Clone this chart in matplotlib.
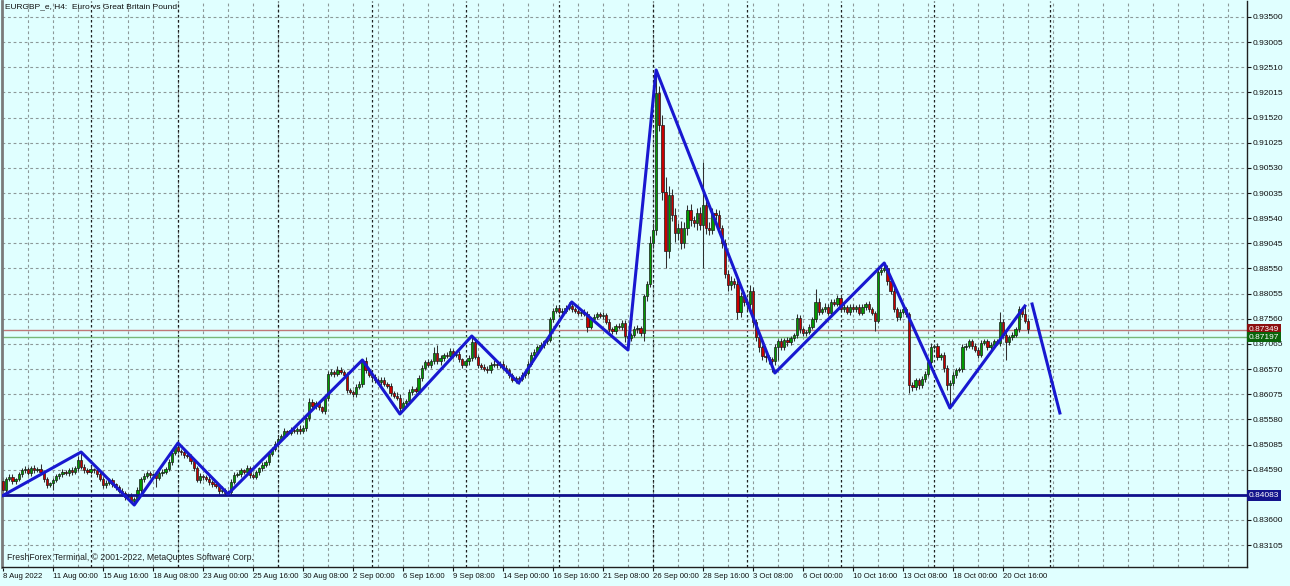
import numpy as np
import matplotlib
matplotlib.use("Agg")
import matplotlib.pyplot as plt

plt.rcParams['font.family'] = ['Liberation Sans', 'DejaVu Sans']

# H4 closes, 8 Aug 2022 08:00 .. 21 Oct 2022 (open = previous close)
close = [
    0.8420, 0.8440, 0.8445, 0.8436, 0.8440, 0.8450, 0.8458, 0.8460,
    0.8452, 0.8462, 0.8458, 0.8460, 0.8455, 0.8440, 0.8428, 0.8432,
    0.8438, 0.8446, 0.8450, 0.8455, 0.8452, 0.8458, 0.8455, 0.8462,
    0.8478, 0.8465, 0.8458, 0.8455, 0.8460, 0.8458, 0.8450, 0.8440,
    0.8428, 0.8432, 0.8438, 0.8430, 0.8425, 0.8418, 0.8414, 0.8405,
    0.8408, 0.8398, 0.8402, 0.8420, 0.8440, 0.8446, 0.8452, 0.8448,
    0.8450, 0.8442, 0.8452, 0.8455, 0.8460, 0.8475, 0.8492, 0.8503,
    0.8495, 0.8493, 0.8488, 0.8486, 0.8476, 0.8462, 0.8438, 0.8446,
    0.8444, 0.8440, 0.8435, 0.8430, 0.8426, 0.8418, 0.8420, 0.8414,
    0.8416, 0.8435, 0.8448, 0.8450, 0.8458, 0.8455, 0.8462, 0.8448,
    0.8445, 0.8455, 0.8462, 0.8468, 0.8475, 0.8490, 0.8500, 0.8510,
    0.8520, 0.8525, 0.8535, 0.8532, 0.8538, 0.8536, 0.8540, 0.8535,
    0.8542, 0.8560, 0.8592, 0.8585, 0.8590, 0.8582, 0.8574, 0.8600,
    0.8648, 0.8652, 0.8648, 0.8656, 0.8652, 0.8645, 0.8615, 0.8612,
    0.8608, 0.8622, 0.8628, 0.8672, 0.8655, 0.8645, 0.8642, 0.8635,
    0.8632, 0.8636, 0.8628, 0.8624, 0.8610, 0.8605, 0.8600, 0.8580,
    0.8590, 0.8595, 0.8612, 0.8618, 0.8614, 0.8640, 0.8660, 0.8670,
    0.8666, 0.8672, 0.8688, 0.8672, 0.8678, 0.8685, 0.8682, 0.8692,
    0.8684, 0.8686, 0.8676, 0.8665, 0.8672, 0.8678, 0.8710, 0.8680,
    0.8665, 0.8662, 0.8658, 0.8655, 0.8666, 0.8668, 0.8665, 0.8668,
    0.8660, 0.8655, 0.8645, 0.8635, 0.8640, 0.8638, 0.8645, 0.8650,
    0.8668, 0.8685, 0.8690, 0.8700, 0.8705, 0.8712, 0.8715, 0.8755,
    0.8772, 0.8778, 0.8770, 0.8772, 0.8778, 0.8782, 0.8775, 0.8772,
    0.8768, 0.8770, 0.8766, 0.8740, 0.8755, 0.8760, 0.8765, 0.8762,
    0.8764, 0.8750, 0.8735, 0.8732, 0.8742, 0.8740, 0.8748, 0.8722,
    0.8718, 0.8725, 0.8735, 0.8738, 0.8728, 0.8800, 0.8825, 0.8905,
    0.8930, 0.9200, 0.9138, 0.9006, 0.8890, 0.9000, 0.8960, 0.8925,
    0.8935, 0.8905, 0.8935, 0.8970, 0.8950, 0.8945, 0.8965, 0.8940,
    0.8980, 0.8935, 0.8930, 0.8965, 0.8960, 0.8935, 0.8905, 0.8845,
    0.8822, 0.8830, 0.8825, 0.8770, 0.8800, 0.8790, 0.8785, 0.8810,
    0.8750, 0.8720, 0.8700, 0.8682, 0.8680, 0.8676, 0.8672, 0.8700,
    0.8712, 0.8700, 0.8715, 0.8710, 0.8718, 0.8725, 0.8758, 0.8735,
    0.8728, 0.8730, 0.8740, 0.8755, 0.8790, 0.8770, 0.8775, 0.8780,
    0.8768, 0.8790, 0.8786, 0.8796, 0.8775, 0.8780, 0.8770, 0.8780,
    0.8775, 0.8780, 0.8768, 0.8780, 0.8785, 0.8775, 0.8768, 0.8752,
    0.8848, 0.8852, 0.8855, 0.8830, 0.8810, 0.8775, 0.8760, 0.8770,
    0.8775, 0.8765, 0.8625, 0.8622, 0.8635, 0.8625, 0.8638, 0.8648,
    0.8670, 0.8700, 0.8702, 0.8680, 0.8685, 0.8660, 0.8625, 0.8630,
    0.8645, 0.8655, 0.8658, 0.8700, 0.8702, 0.8712, 0.8702, 0.8695,
    0.8685, 0.8708, 0.8712, 0.8700, 0.8705, 0.8712, 0.8708, 0.8750,
    0.8725, 0.8710, 0.8720, 0.8725, 0.8735, 0.8775, 0.8765, 0.8752,
    0.8735,
]
first_open = 0.8437

# wick lengths above / below the body, in pips
wick_up = [
    8, 4, 6, 5, 3, 5, 4, 6,  5, 4, 6, 5, 11, 4, 5, 3,
    4, 5, 3, 6, 4, 5, 6, 4,  8, 16, 5, 4, 6, 3, 5, 4,
    5, 6, 4, 5, 3, 4, 5, 3,  4, 6, 3, 4, 5, 6, 4, 5,
    3, 5, 4, 6, 4, 5, 6, 4,  9, 5, 4, 6, 3, 5, 4, 6,
    5, 4, 6, 3, 5, 4, 6, 3,  4, 5, 6, 4, 5, 3, 6, 4,
    5, 4, 3, 6, 4, 5, 3, 6,  4, 5, 6, 3, 5, 4, 3, 6,
    4, 5, 8, 6, 4, 5, 3, 6,  5, 6, 4, 7, 5, 4, 6, 5,
    4, 6, 5, 3, 8, 4, 6, 5,  4, 5, 6, 4, 5, 3, 6, 8,
    5, 4, 6, 5, 4, 6, 5, 4,  6, 5, 12, 17, 6, 4, 5, 6,
    5, 4, 6, 3, 5, 6, 12, 8,  5, 4, 6, 5, 4, 6, 5, 4,
    5, 6, 4, 5, 3, 4, 6, 5,  4, 5, 6, 4, 5, 3, 6, 5,
    6, 5, 4, 6, 5, 8, 6, 4,  5, 4, 6, 5, 4, 6, 5, 4,
    5, 4, 6, 5, 4, 6, 5, 6,  5, 4, 6, 5, 4, 5, 6, 13,
    15, 46, 15, 20, 30, 18, 12, 15,  10, 14, 12, 9, 11, 8, 10, 12,
    85, 10, 12, 9, 8, 10, 6, 9,  8, 10, 7, 12, 9, 8, 6, 12,
    8, 6, 7, 5, 6, 4, 5, 6,  5, 7, 4, 6, 5, 4, 8, 6,
    5, 4, 6, 5, 25, 6, 5, 7,  6, 5, 4, 6, 5, 7, 4, 6,
    5, 4, 6, 5, 4, 6, 5, 4,  6, 5, 11, 6, 5, 6, 4, 5,
    6, 5, 4, 6, 5, 4, 6, 5,  6, 8, 5, 6, 4, 5, 6, 5,
    6, 5, 4, 6, 7, 5, 4, 6,  5, 6, 4, 5, 6, 5, 4, 20,
    6, 5, 4, 6, 5, 6, 4, 16,  5,
]
wick_dn = [
    6, 5, 4, 6, 5, 4, 6, 5,  4, 5, 6, 4, 5, 6, 5, 4,
    12, 4, 5, 6, 4, 5, 6, 4,  5, 4, 6, 5, 4, 6, 5, 4,
    6, 5, 4, 6, 5, 4, 6, 5,  4, 5, 8, 4, 6, 5, 4, 6,
    5, 17, 4, 6, 5, 4, 6, 5,  4, 6, 5, 4, 6, 5, 4, 6,
    5, 4, 6, 5, 4, 6, 5, 4,  3, 6, 5, 4, 6, 5, 4, 6,
    5, 4, 6, 5, 4, 6, 5, 4,  6, 5, 4, 6, 5, 4, 6, 5,
    4, 6, 5, 4, 6, 5, 4, 6,  5, 4, 6, 5, 4, 6, 5, 4,
    6, 5, 4, 6, 5, 4, 6, 5,  4, 6, 5, 4, 6, 5, 4, 11,
    6, 5, 4, 6, 5, 4, 6, 5,  4, 6, 5, 4, 6, 5, 4, 6,
    5, 4, 6, 5, 4, 6, 5, 4,  6, 5, 4, 6, 5, 4, 6, 5,
    4, 6, 5, 4, 6, 10, 4, 6,  5, 4, 6, 5, 4, 6, 5, 4,
    6, 5, 4, 6, 5, 4, 6, 5,  4, 6, 5, 10, 4, 6, 5, 4,
    6, 5, 4, 6, 5, 4, 6, 12,  23, 5, 4, 6, 5, 16, 8, 6,
    10, 10, 12, 16, 34, 15, 12, 18,  14, 12, 10, 15, 12, 9, 14, 10,
    85, 12, 10, 8, 9, 11, 10, 8,  12, 10, 8, 14, 10, 9, 12, 8,
    10, 8, 9, 7, 10, 8, 20, 6,  25, 6, 5, 8, 6, 5, 7, 6,
    5, 6, 4, 5, 6, 7, 5, 6,  5, 6, 4, 5, 6, 5, 4, 6,
    5, 6, 4, 5, 6, 5, 4, 20,  5, 6, 4, 7, 6, 5, 8, 6,
    5, 6, 15, 8, 6, 7, 5, 6,  5, 6, 4, 6, 5, 8, 10, 42,
    6, 5, 4, 6, 5, 4, 6, 5,  6, 5, 4, 6, 5, 6, 4, 5,
    6, 35, 5, 6, 4, 5, 6, 5,  6,
]

# ZigZag turning points (bar index, price)
zz_idx = [0, 25, 42, 56, 72, 115, 127, 150, 165, 182, 200, 209, 247, 282, 303, 327]
zz_price = [0.84083, 0.84938, 0.83895, 0.85115, 0.84112, 0.86749, 0.85686, 0.87221,
            0.86296, 0.87891, 0.86946, 0.92457, 0.86493, 0.88658, 0.85804, 0.87812]
proj_idx = [329.3, 338.2]
proj_price = [0.87851, 0.85706]

level_blue = 0.84083
level_red = 0.87349
level_green = 0.87197

y_ticks = [0.93500, 0.93005, 0.92510, 0.92015, 0.91520, 0.91025, 0.90530, 0.90035,
           0.89540, 0.89045, 0.88550, 0.88055, 0.87560, 0.87065, 0.86570, 0.86075,
           0.85580, 0.85085, 0.84590, 0.84095, 0.83600, 0.83105]
x_labels = ['8 Aug 2022', '11 Aug 00:00', '15 Aug 16:00', '18 Aug 08:00', '23 Aug 00:00',
            '25 Aug 16:00', '30 Aug 08:00', '2 Sep 00:00', '6 Sep 16:00', '9 Sep 08:00',
            '14 Sep 00:00', '16 Sep 16:00', '21 Sep 08:00', '26 Sep 00:00', '28 Sep 16:00',
            '3 Oct 08:00', '6 Oct 00:00', '10 Oct 16:00', '13 Oct 08:00', '18 Oct 00:00',
            '20 Oct 16:00']
week_sep = [28, 56, 88, 118, 148, 178, 208, 238, 268, 298, 335]

bg = '#e0ffff'
W, H = 1290, 586
fig = plt.figure(figsize=(W / 100, H / 100), dpi=100, facecolor=bg)
ax = fig.add_axes([2 / W, (H - 567) / H, 1245 / W, 566 / H], facecolor=bg)

c = np.array(close)
o = np.r_[first_open, c[:-1]]
hi = np.maximum(o, c) + np.array(wick_up) * 0.0001
lo = np.minimum(o, c) - np.array(wick_dn) * 0.0001
x = np.arange(len(c))

ax.set_xlim(-0.32, 398.08)
ax.set_ylim(0.826749, 0.938149)

# grid + week separators
grid_kw = dict(color='#8c9898', lw=0.8, ls=(0, (2.5, 2.5)), zorder=0)
for yt in y_ticks:
    ax.axhline(yt, **grid_kw)
for gx in range(8, 399, 8):
    ax.axvline(gx, **grid_kw)
for sx in week_sep:
    ax.axvline(sx, color='#202020', lw=0.9, ls=(0, (2, 2)), zorder=0.5)

# candles
ax.vlines(x, lo, hi, color='#303030', lw=0.75, zorder=2)
up = c >= o
body_h = np.maximum(np.abs(c - o), 0.00008)
ax.bar(x[up], body_h[up], bottom=np.minimum(o, c)[up], width=0.72,
       color='#009a00', edgecolor='#1a1a1a', lw=0.5, zorder=3)
ax.bar(x[~up], body_h[~up], bottom=np.minimum(o, c)[~up], width=0.72,
       color='#c80000', edgecolor='#1a1a1a', lw=0.5, zorder=3)

# price lines
ax.axhline(level_red, color='#c07878', lw=1.0, zorder=1)
ax.axhline(level_green, color='#78b878', lw=1.0, zorder=1)
ax.axhline(level_blue, color='#10108c', lw=2.0, zorder=4)

# zigzag
ax.plot(zz_idx, zz_price, color='#1818d0', lw=2.2, zorder=5)
ax.plot(proj_idx, proj_price, color='#1818d0', lw=2.2, zorder=5)

ax.spines['top'].set_visible(False)
ax.spines['left'].set_color('#7a7a7a')
ax.spines['left'].set_linewidth(2)
ax.spines['right'].set_color('#202020')
ax.spines['bottom'].set_color('#202020')
ax.spines['right'].set_linewidth(1)
ax.spines['bottom'].set_linewidth(1)

# the 0.84095 label sits under the blue line tag on the scale
ax.yaxis.tick_right()
ax.set_yticks(y_ticks)
ax.set_yticklabels(['' if abs(v - 0.84095) < 1e-6 else '%.5f' % v for v in y_ticks])
ax.tick_params(axis='y', length=3, width=0.8, pad=1, labelsize=6, colors='#101010')

ax.set_xticks([16 * k for k in range(len(x_labels))])
ax.set_xticklabels(x_labels)
ax.tick_params(axis='x', length=3, width=0.8, pad=1.5, labelsize=5.6, colors='#101010')
for lbl in ax.get_xticklabels():
    lbl.set_ha('left')

# price tags on the scale
for val, col in [(level_red, '#8b1010'), (level_green, '#0a640a'), (level_blue, '#14148c')]:
    ax.text(1.0015, val, '%.5f' % val, transform=ax.get_yaxis_transform(),
            fontsize=6, color='white', va='center', ha='left', zorder=10, clip_on=False,
            bbox=dict(boxstyle='square,pad=0.2', fc=col, ec='none'))

fig.text(5 / W, 1 - 7 / H, 'EURGBP_e, H4:  Euro vs Great Britain Pound',
         fontsize=6, va='center', ha='left', color='#101010')
fig.text(7 / W, 1 - 558 / H, 'FreshForex Terminal, \u00a9 2001-2022, MetaQuotes Software Corp.',
         fontsize=6.2, va='center', ha='left', color='#202020')

fig.savefig('out.png', dpi=100, facecolor=bg)
